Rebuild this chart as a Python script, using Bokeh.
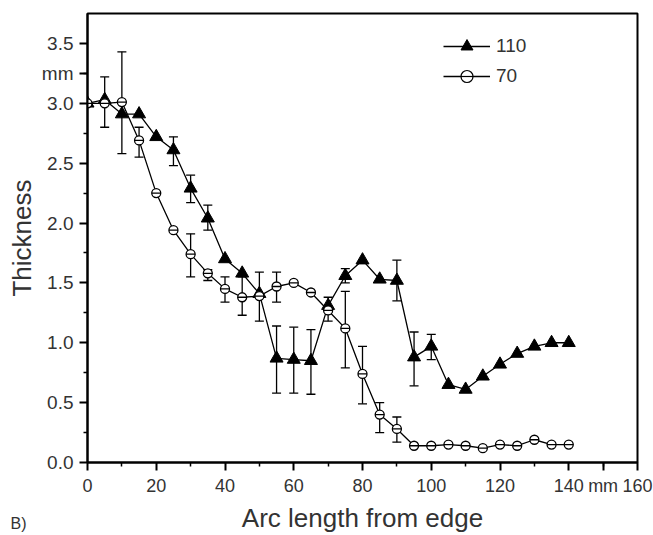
from bokeh.plotting import figure
from bokeh.models import (Range1d, FixedTicker, Whisker, TeeHead, ColumnDataSource,
                          Legend, LegendItem, Label, NumeralTickFormatter)
from bokeh.embed import file_html
from bokeh.resources import INLINE

# ---- data ----
arc = [0, 5, 10, 15, 20, 25, 30, 35, 40, 45, 50, 55, 60, 65, 70, 75, 80, 85, 90, 95,
       100, 105, 110, 115, 120, 125, 130, 135, 140]
thick_110 = [3.00, 3.03, 2.91, 2.91, 2.72, 2.61, 2.29, 2.04, 1.70, 1.58, 1.41, 0.87, 0.86, 0.85,
             1.31, 1.56, 1.69, 1.53, 1.52, 0.88, 0.97, 0.65, 0.61, 0.72, 0.82, 0.91, 0.97, 1.00, 1.00]
thick_70 = [3.00, 3.00, 3.01, 2.69, 2.25, 1.94, 1.74, 1.58, 1.45, 1.38, 1.39, 1.47, 1.50, 1.42,
            1.27, 1.12, 0.74, 0.40, 0.28, 0.14, 0.14, 0.15, 0.14, 0.12, 0.15, 0.14, 0.19, 0.15, 0.15]

err110_x = [25, 30, 35, 50, 55, 60, 65, 75, 90, 95, 100]
err110_lo = [2.48, 2.17, 1.94, 1.18, 0.58, 0.58, 0.57, 1.50, 1.35, 0.64, 0.86]
err110_hi = [2.72, 2.40, 2.15, 1.59, 1.14, 1.13, 1.11, 1.62, 1.69, 1.09, 1.07]

err70_x = [5, 10, 15, 30, 35, 40, 45, 55, 70, 75, 80, 85, 90]
err70_lo = [2.80, 2.58, 2.55, 1.55, 1.52, 1.34, 1.23, 1.34, 1.18, 0.79, 0.49, 0.25, 0.17]
err70_hi = [3.22, 3.43, 2.80, 1.91, 1.61, 1.55, 1.55, 1.59, 1.38, 1.43, 0.97, 0.50, 0.38]

series_names = ["110", "70"]
x_major = [0, 20, 40, 60, 80, 100, 120, 140, 160]
x_minor = [10, 30, 50, 70, 90, 110, 130, 150]
y_major = [0.0, 0.5, 1.0, 1.5, 2.0, 2.5, 3.0, 3.5]
y_minor = [0.25, 0.75, 1.25, 1.75, 2.25, 2.75, 3.25]
x_unit_pos, x_unit = 150, "mm"
y_unit_pos, y_unit = 3.25, "mm"
panel_tag = "B)"

FONT = "Liberation Sans"
TXT = "#333333"

p = figure(width=653, height=535, x_range=Range1d(0, 160), y_range=Range1d(0, 3.75),
           output_backend="svg", toolbar_location=None,
           min_border_left=87, min_border_right=16, min_border_top=13, min_border_bottom=73)

p.grid.visible = False
p.outline_line_color = "black"
p.outline_line_width = 2
p.background_fill_color = "white"
p.border_fill_color = "white"

p.xaxis.ticker = FixedTicker(ticks=x_major + [x_unit_pos], minor_ticks=x_minor)
p.yaxis.ticker = FixedTicker(ticks=y_major + [y_unit_pos], minor_ticks=y_minor)
p.yaxis.formatter = NumeralTickFormatter(format="0.0")
p.xaxis.major_label_overrides = {x_unit_pos: x_unit}
p.yaxis.major_label_overrides = {y_unit_pos: y_unit}
for ax in (p.xaxis, p.yaxis):
    ax.axis_line_width = 2
    ax.axis_line_color = "black"
    ax.major_tick_out = 8
    ax.major_tick_in = 0
    ax.minor_tick_out = 4
    ax.minor_tick_in = 0
    ax.major_tick_line_width = 2
    ax.minor_tick_line_width = 1.5
    ax.major_label_text_font = FONT
    ax.major_label_text_font_size = "19px"
    ax.major_label_text_color = TXT
    ax.axis_label_text_font = FONT
    ax.axis_label_text_font_size = "26px"
    ax.axis_label_text_font_style = "normal"
    ax.axis_label_text_color = TXT
p.xaxis.major_label_text_font_size = "18px"
p.yaxis.axis_label = "Thickness"
p.xaxis.axis_label = "Arc length from edge"
p.yaxis.major_label_standoff = 6
p.yaxis.axis_label_standoff = 2
p.xaxis.major_label_standoff = 5
p.xaxis.axis_label_standoff = 4

# lines
p.line(arc, thick_110, line_color="black", line_width=1.3)
p.line(arc, thick_70, line_color="black", line_width=1.3)

# error bars
for ex, lo, hi in ((err110_x, err110_lo, err110_hi), (err70_x, err70_lo, err70_hi)):
    src = ColumnDataSource(dict(base=ex, lower=lo, upper=hi))
    w = Whisker(base="base", lower="lower", upper="upper", source=src,
                line_color="black", line_width=1.3,
                upper_head=TeeHead(size=9, line_color="black", line_width=1.3),
                lower_head=TeeHead(size=9, line_color="black", line_width=1.3))
    p.add_layout(w)

# markers
p.scatter(arc, thick_110, marker="triangle", size=13, fill_color="black", line_color="black")
p.scatter(arc, thick_70, marker="circle", size=9, fill_color="white", line_color="black", line_width=1.3)
p.scatter(arc, thick_70, marker="dash", size=9, line_color="black", line_width=1.3)

# legend glyphs (legend only, not drawn in the plot)
nan = float("nan")
l1 = p.line([nan], [nan], line_color="black", line_width=1.3)
m1 = p.scatter([nan], [nan], marker="triangle", size=10, fill_color="black", line_color="black")
l2 = p.line([nan], [nan], line_color="black", line_width=1.3)
m2 = p.scatter([nan], [nan], marker="circle", size=7, fill_color="white", line_color="black", line_width=1.2)
d2 = p.scatter([nan], [nan], marker="dash", size=7, line_color="black", line_width=1.2)
legend = Legend(items=[LegendItem(label=series_names[0], renderers=[l1, m1]),
                       LegendItem(label=series_names[1], renderers=[l2, m2, d2])],
                location=(356, 371), padding=0, spacing=0, margin=0,
                glyph_width=47, glyph_height=30, label_height=30, label_standoff=6,
                label_text_font=FONT, label_text_font_size="19px", label_text_color=TXT,
                background_fill_alpha=0, border_line_alpha=0)
p.add_layout(legend)

# panel tag: placed in the right side panel (not clipped), positioned in screen px
tag = Label(x=-627, y=-52, x_units="screen", y_units="screen", text=panel_tag,
            text_align="left", text_baseline="top",
            text_font=FONT, text_font_size="16px", text_color=TXT)
p.add_layout(tag, "right")

open("out.html", "w").write(file_html(p, INLINE))
